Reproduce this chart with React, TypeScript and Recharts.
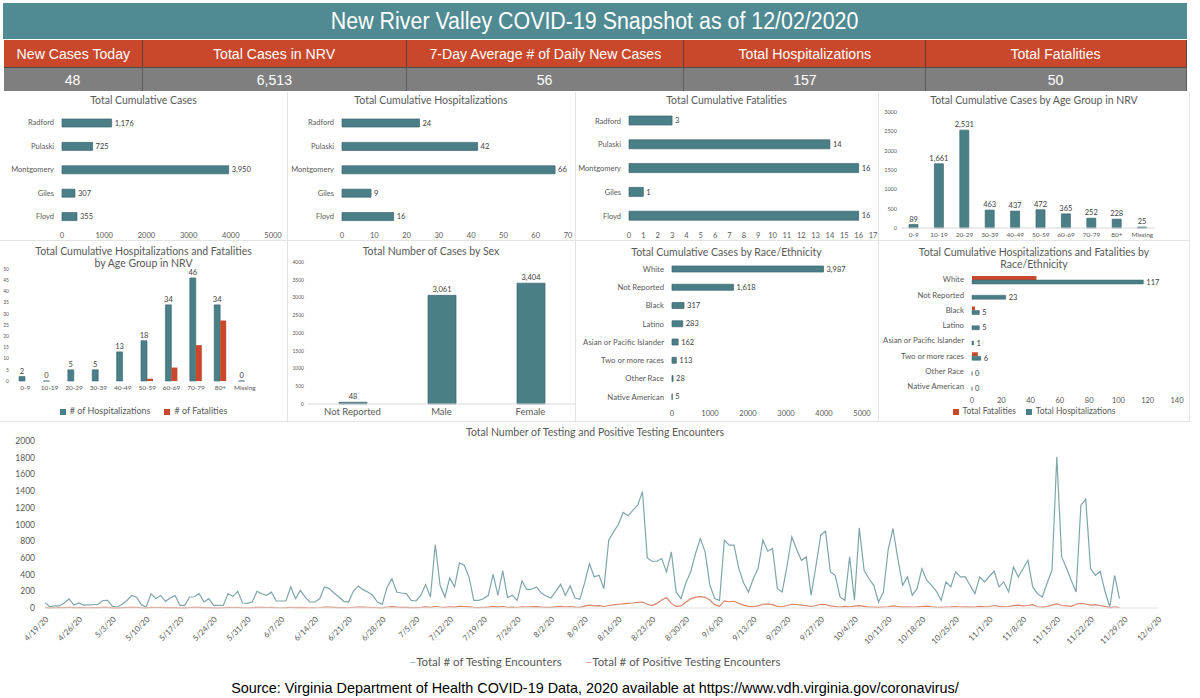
import React from "react";
import { BarChart, Bar, XAxis, YAxis, LabelList, LineChart, Line } from "recharts";

const TEAL = "#4b7f88";
const EDGE = "#3a666e";
const ORANGE = "#c9472b";
const TEXT = "#595959";
const FONT = "Lato, 'Open Sans', sans-serif";
const HEAD_FONT = "'Liberation Sans', Arial, sans-serif";

const headerLabels = ["New Cases Today", "Total Cases in NRV", "7-Day Average # of Daily New Cases", "Total Hospitalizations", "Total Fatalities"];
const headerValues = ["48", "6,513", "56", "157", "50"];
const headerEdges = [4, 143, 407, 684, 926, 1187];

const localities = ["Radford", "Pulaski", "Montgomery", "Giles", "Floyd"];
const casesByLocality = [1176, 725, 3950, 307, 355];
const hospByLocality = [24, 42, 66, 9, 16];
const deathsByLocality = [3, 14, 16, 1, 16];

const ageGroups = ["0-9", "10-19", "20-29", "30-39", "40-49", "50-59", "60-69", "70-79", "80+", "Missing"];
const casesByAge = [89, 1661, 2531, 463, 437, 472, 365, 252, 228, 25];
const hospByAge = [2, 0, 5, 5, 13, 18, 34, 46, 34, 0];
const deathsByAge = [0, 0, 0, 0, 0, 1, 6, 16, 27, 0];

const sexes = ["Not Reported", "Male", "Female"];
const casesBySex = [48, 3061, 3404];

const races = ["White", "Not Reported", "Black", "Latino", "Asian or Pacific Islander", "Two or more races", "Other Race", "Native American"];
const casesByRace = [3987, 1618, 317, 283, 162, 113, 28, 5];
const hospByRace = [117, 23, 5, 5, 1, 6, 0, 0];
const deathsByRace = [44, 0, 2, 0, 0, 4, 0, 0];

// daily values from 4/19/20 onward
const testing = [
  64, 15, 25, 25, 60, 110, 35, 60, 35, 38,
  40, 45, 90, 92, 20, 12, 45, 90, 150, 130,
  40, 12, 170, 115, 150, 80, 120, 150, 32, 32,
  132, 135, 172, 72, 112, 32, 32, 30, 172, 140,
  200, 60, 55, 72, 200, 170, 152, 190, 84, 84,
  84, 252, 112, 212, 130, 72, 72, 110, 252, 232,
  180, 132, 80, 72, 200, 264, 220, 192, 152, 72,
  44, 250, 352, 192, 180, 172, 92, 84, 150, 280,
  132, 760, 272, 132, 360, 252, 540, 512, 372, 92,
  92, 110, 152, 404, 152, 444, 124, 152, 92, 324,
  220, 225, 252, 180, 144, 120, 200, 284, 152, 264,
  120, 104, 300, 532, 372, 392, 232, 812, 912, 1000,
  1144, 1104, 1170, 1232, 1392, 600, 560, 560, 592, 432,
  672, 192, 112, 300, 432, 650, 832, 672, 272, 112,
  92, 812, 752, 752, 472, 300, 192, 350, 472, 812,
  680, 712, 232, 192, 500, 852, 700, 572, 612,
  152, 500, 872, 920, 432, 392, 132, 92, 612, 92,
  960, 452, 350, 272, 72, 192, 700, 952, 592, 272,
  372, 152, 232, 472, 332, 272, 200, 92, 312,
  252, 432, 372, 372, 270, 172, 372, 312, 380, 440,
  252, 312, 192, 492, 372, 470, 572, 252, 172,
  132, 300, 452, 1812, 612, 480, 330, 192, 1232, 1304,
  472, 392, 440, 200, 12, 392, 112,
];
const positive = [
  6, 2, 3, 5, 4, 9, 5, 6, 4, 3,
  4, 5, 8, 7, 2, 1, 4, 6, 9, 7,
  3, 1, 8, 6, 7, 4, 6, 5, 2, 2,
  6, 7, 8, 4, 5, 2, 2, 3, 7, 6,
  8, 3, 3, 4, 8, 7, 6, 7, 4, 3,
  4, 9, 5, 8, 5, 3, 3, 6, 12, 10,
  8, 5, 4, 3, 9, 12, 10, 9, 6, 3,
  2, 12, 16, 10, 8, 7, 5, 4, 8, 14,
  8, 18, 12, 8, 15, 10, 20, 18, 14, 6,
  5, 8, 10, 20, 10, 18, 8, 10, 6, 15,
  12, 14, 16, 10, 8, 7, 14, 20, 12, 18,
  10, 8, 22, 35, 25, 28, 18, 30, 38, 45,
  50, 55, 60, 68, 72, 45, 30, 55, 95, 125,
  55, 20, 25, 70, 110, 130, 135, 128, 95, 40,
  20, 85, 75, 80, 55, 35, 20, 15, 25, 45,
  50, 40, 20, 15, 30, 45, 42, 35, 28,
  18, 30, 45, 42, 25, 18, 12, 20, 15, 22,
  28, 20, 12, 10, 8, 12, 15, 25, 18, 10,
  15, 12, 14, 18, 22, 15, 10, 8, 12,
  14, 18, 12, 15, 10, 12, 20, 15, 18, 30,
  20, 15, 18, 28, 35, 25, 30, 40, 15,
  10, 18, 35, 50, 30, 25, 20, 45, 55, 48,
  35, 40, 30, 20, 2, 15, 5,
];

// axis runs 4/19/20 .. 12/6/20
const dates = Array.from({ length: 232 }, (_, i) => {
  const d = new Date(2020, 3, 19 + i);
  return `${d.getMonth() + 1}/${d.getDate()}/20`;
});
const lineTicks = [0, 200, 400, 600, 800, 1000, 1200, 1400, 1600, 1800, 2000];

const fmt = (v: any) => (typeof v === "number" ? v.toLocaleString("en-US") : v);

// category labels on one line, right-aligned against the axis
const catTick = (size: number) => (p: any) => (
  <text x={p.x} y={p.y} dy={size * 0.35} textAnchor="end" fontSize={size} fill={TEXT}>
    {p.payload.value}
  </text>
);

function Narrow({ children, scale }: { children: React.ReactNode; scale: number }) {
  return <span style={{ display: "inline-block", transform: `scaleX(${scale})`, whiteSpace: "nowrap" }}>{children}</span>;
}

function Title({ left, top, width, lines }: { left: number; top: number; width: number; lines: string[] }) {
  return (
    <div style={{ position: "absolute", left, top, width, textAlign: "center", fontSize: 10.5, lineHeight: "12px", color: TEXT, fontFamily: FONT }}>
      {lines.map((l) => (
        <div key={l}>{l}</div>
      ))}
    </div>
  );
}

function HBarPanel(props: {
  left: number; top: number; width: number; height: number;
  names: string[]; values: number[]; max: number; ticks: number[];
  yWidth: number; marginTop: number; marginRight: number; barSize: number; catSize: number;
}) {
  const data = props.names.map((name, i) => ({ name, v: props.values[i] }));
  return (
    <div style={{ position: "absolute", left: props.left, top: props.top }}>
      <BarChart width={props.width} height={props.height} data={data} layout="vertical"
        margin={{ top: props.marginTop, right: props.marginRight, bottom: 0, left: 0 }}>
        <XAxis type="number" domain={[0, props.max]} ticks={props.ticks} interval={0} axisLine={false} tickLine={false}
          tickSize={3} height={14} tick={{ fontSize: 7.5, fill: TEXT }} />
        <YAxis type="category" dataKey="name" width={props.yWidth} axisLine={false} tickLine={false} interval={0}
          tick={catTick(props.catSize)} />
        <Bar dataKey="v" fill={TEAL} stroke={EDGE} strokeWidth={0.7} barSize={props.barSize} isAnimationActive={false}>
          <LabelList dataKey="v" position="right" offset={3} formatter={fmt} fontSize={7.5} fill="#404040" />
        </Bar>
      </BarChart>
    </div>
  );
}

function Swatch({ color }: { color: string }) {
  return <span style={{ display: "inline-block", width: 6, height: 6, background: color, marginRight: 4, verticalAlign: "middle" }} />;
}

export default function App() {
  const ageData = ageGroups.map((g, i) => ({ g, cases: casesByAge[i], hosp: hospByAge[i], deaths: deathsByAge[i] }));
  const sexData = sexes.map((s, i) => ({ s, v: casesBySex[i] }));
  const raceData = races.map((r, i) => ({ r, hosp: hospByRace[i], deaths: deathsByRace[i] }));
  const lineData = dates.map((date, i) => ({
    date,
    testing: i < testing.length ? testing[i] : null,
    positive: i < positive.length ? positive[i] : null,
  }));

  const sep = "1px solid #e4e4e4";

  return (
    <div style={{ position: "absolute", left: 0, top: 0, width: 1200, height: 698, background: "#fff", fontFamily: FONT, overflow: "hidden" }}>
      {/* header */}
      <div style={{ position: "absolute", left: 3, top: 3, width: 1184, height: 36, background: "#508a93", color: "#fff",
        fontFamily: HEAD_FONT, fontSize: 23, lineHeight: "36px", textAlign: "center" }}>
        <Narrow scale={0.93}>New River Valley COVID-19 Snapshot as of 12/02/2020</Narrow>
      </div>
      {headerLabels.map((h, i) => (
        <div key={h} style={{ position: "absolute", left: headerEdges[i], top: 40, width: headerEdges[i + 1] - headerEdges[i], height: 27,
          background: ORANGE, color: "#fff", fontFamily: HEAD_FONT, fontSize: 15.5, lineHeight: "27px", textAlign: "center",
          borderRight: "1px solid #5a4038", boxSizing: "border-box" }}>
          <Narrow scale={0.91}>{h}</Narrow>
        </div>
      ))}
      {headerValues.map((v, i) => (
        <div key={i} style={{ position: "absolute", left: headerEdges[i], top: 67, width: headerEdges[i + 1] - headerEdges[i], height: 24,
          background: "#7f7f7f", color: "#fff", fontFamily: HEAD_FONT, fontSize: 15.5, lineHeight: "24px", textAlign: "center",
          borderRight: "1px solid #5c5c5c", borderTop: "1px solid #4a4a4a", boxSizing: "border-box" }}>
          <Narrow scale={0.91}>{v}</Narrow>
        </div>
      ))}

      {/* panel separators */}
      <div style={{ position: "absolute", left: 0, top: 240, width: 1190, borderTop: sep }} />
      <div style={{ position: "absolute", left: 0, top: 421, width: 1190, borderTop: sep }} />
      {[287, 575, 878, 1189].map((x) => (
        <div key={x} style={{ position: "absolute", left: x, top: 92, height: 329, borderLeft: sep }} />
      ))}

      {/* row 1 */}
      <Title left={0} top={94} width={287} lines={["Total Cumulative Cases"]} />
      <HBarPanel left={0} top={92} width={287} height={150} names={localities} values={casesByLocality} max={5000}
        ticks={[0, 1000, 2000, 3000, 4000, 5000]} yWidth={62} marginTop={19} marginRight={14} barSize={8} catSize={7.5} />

      <Title left={287} top={94} width={288} lines={["Total Cumulative Hospitalizations"]} />
      <HBarPanel left={287} top={92} width={288} height={150} names={localities} values={hospByLocality} max={70}
        ticks={[0, 10, 20, 30, 40, 50, 60, 70]} yWidth={55} marginTop={19} marginRight={7} barSize={8} catSize={7.5} />

      <Title left={575} top={94} width={303} lines={["Total Cumulative Fatalities"]} />
      <HBarPanel left={575} top={92} width={303} height={150} names={localities} values={deathsByLocality} max={17}
        ticks={Array.from({ length: 18 }, (_, i) => i)} yWidth={54} marginTop={17} marginRight={5} barSize={9} catSize={7.5} />

      <Title left={878} top={94} width={312} lines={["Total Cumulative Cases by Age Group in NRV"]} />
      <div style={{ position: "absolute", left: 878, top: 92 }}>
        <BarChart width={312} height={148} data={ageData} margin={{ top: 20, right: 35, bottom: 0, left: 0 }}>
          <XAxis dataKey="g" interval={0} tickLine={false} axisLine={{ stroke: "#d9d9d9" }} tickSize={2} height={12}
            tick={{ fontSize: 6.5, fill: TEXT }} />
          <YAxis domain={[0, 3000]} ticks={[0, 500, 1000, 1500, 2000, 2500, 3000]} width={23} axisLine={false} tickLine={false}
            tickSize={2} tickMargin={2} tick={{ fontSize: 5.5, fill: TEXT }} />
          <Bar dataKey="cases" fill={TEAL} stroke={EDGE} strokeWidth={0.7} barSize={9} isAnimationActive={false}>
            <LabelList dataKey="cases" position="top" offset={3} formatter={fmt} fontSize={7.5} fill="#404040" />
          </Bar>
        </BarChart>
      </div>

      {/* row 2 */}
      <Title left={0} top={245} width={287} lines={["Total Cumulative Hospitalizations and Fatalities", "by Age Group in NRV"]} />
      <div style={{ position: "absolute", left: 0, top: 240 }}>
        <BarChart width={287} height={153} data={ageData} barGap={0} margin={{ top: 29, right: 30, bottom: 0, left: 0 }}>
          <XAxis dataKey="g" interval={0} tickLine={false} axisLine={false} tickSize={2} height={12}
            tick={{ fontSize: 6.5, fill: TEXT }} />
          <YAxis domain={[0, 50]} ticks={[0, 5, 10, 15, 20, 25, 30, 35, 40, 45, 50]} width={13} axisLine={false} tickLine={false}
            tickSize={2} tickMargin={2} tick={{ fontSize: 5, fill: TEXT }} />
          <Bar dataKey="hosp" fill={TEAL} stroke={EDGE} strokeWidth={0.6} barSize={6} minPointSize={0.01} isAnimationActive={false}>
            <LabelList dataKey="hosp" position="top" offset={3} fontSize={7.5} fill="#404040" />
          </Bar>
          <Bar dataKey="deaths" fill={ORANGE} barSize={6} isAnimationActive={false} />
        </BarChart>
      </div>
      <div style={{ position: "absolute", left: 0, top: 405, width: 287, textAlign: "center", fontSize: 9, color: TEXT }}>
        <Swatch color={TEAL} /># of Hospitalizations<span style={{ display: "inline-block", width: 14 }} />
        <Swatch color={ORANGE} /># of Fatalities
      </div>

      <Title left={287} top={245} width={288} lines={["Total Number of Cases by Sex"]} />
      <div style={{ position: "absolute", left: 287, top: 240 }}>
        <BarChart width={288} height={180} data={sexData} margin={{ top: 22, right: 0, bottom: 0, left: 0 }}>
          <XAxis dataKey="s" interval={0} tickLine={false} axisLine={{ stroke: "#d9d9d9" }} tickSize={2} height={16}
            tick={{ fontSize: 9.5, fill: TEXT }} />
          <YAxis domain={[0, 4000]} ticks={[0, 500, 1000, 1500, 2000, 2500, 3000, 3500, 4000]} width={21} axisLine={false}
            tickLine={false} tickSize={2} tickMargin={2} tick={{ fontSize: 5, fill: TEXT }} />
          <Bar dataKey="v" fill={TEAL} stroke={EDGE} strokeWidth={0.7} barSize={28} isAnimationActive={false}>
            <LabelList dataKey="v" position="top" offset={3} formatter={fmt} fontSize={7.5} fill="#404040" />
          </Bar>
        </BarChart>
      </div>

      <Title left={575} top={246} width={303} lines={["Total Cumulative Cases by Race/Ethnicity"]} />
      <HBarPanel left={575} top={240} width={303} height={180} names={races} values={casesByRace} max={5000}
        ticks={[0, 1000, 2000, 3000, 4000, 5000]} yWidth={97} marginTop={20} marginRight={16} barSize={6} catSize={7.8} />

      <Title left={878} top={246} width={312} lines={["Total Cumulative Hospitalizations and Fatalities by", "Race/Ethnicity"]} />
      <div style={{ position: "absolute", left: 878, top: 240 }}>
        <BarChart width={312} height={168} data={raceData} layout="vertical" barGap={0}
          margin={{ top: 32, right: 13, bottom: 0, left: 0 }}>
          <XAxis type="number" domain={[0, 140]} ticks={[0, 20, 40, 60, 80, 100, 120, 140]} interval={0} axisLine={false}
            tickLine={false} tickSize={2} height={14} tick={{ fontSize: 7.5, fill: TEXT }} />
          <YAxis type="category" dataKey="r" width={94} axisLine={false} tickLine={false} interval={0}
            tick={catTick(7.8)} />
          <Bar dataKey="deaths" fill={ORANGE} barSize={4} isAnimationActive={false} />
          <Bar dataKey="hosp" fill={TEAL} stroke={EDGE} strokeWidth={0.5} barSize={4} minPointSize={0.01} isAnimationActive={false}>
            <LabelList dataKey="hosp" position="right" offset={3} fontSize={7.5} fill="#404040" />
          </Bar>
        </BarChart>
      </div>
      <div style={{ position: "absolute", left: 878, top: 406, width: 312, textAlign: "center", fontSize: 8.5, color: TEXT }}>
        <Swatch color={ORANGE} />Total Fatalities<span style={{ display: "inline-block", width: 10 }} />
        <Swatch color={TEAL} />Total Hospitalizations
      </div>

      {/* testing line chart */}
      <div style={{ position: "absolute", left: 0, top: 426, width: 1190, textAlign: "center", fontSize: 10.5, color: TEXT }}>
        Total Number of Testing and Positive Testing Encounters
      </div>
      <div style={{ position: "absolute", left: 0, top: 425 }}>
        <LineChart width={1200} height={235} data={lineData} margin={{ top: 16, right: 42, bottom: 0, left: 0 }}>
          <XAxis dataKey="date" interval={6} angle={-45} textAnchor="end" height={52} tickLine={false}
            axisLine={{ stroke: "#e0e0e0" }} tick={{ fontSize: 8, fill: TEXT }} />
          <YAxis domain={[0, 2000]} ticks={lineTicks} width={45} axisLine={false} tickLine={false} tickMargin={4}
            tick={{ fontSize: 8.5, fill: TEXT }} />
          <Line dataKey="testing" stroke="#7ea6a9" strokeWidth={1.2} dot={false} isAnimationActive={false} />
          <Line dataKey="positive" stroke="#dc8468" strokeWidth={1.2} dot={false} isAnimationActive={false} />
        </LineChart>
      </div>
      <div style={{ position: "absolute", left: 0, top: 655, width: 1190, textAlign: "center", fontSize: 11.5, color: TEXT }}>
        <span style={{ color: "#7ea6a9" }}>–</span>Total # of Testing Encounters<span style={{ display: "inline-block", width: 24 }} />
        <span style={{ color: "#dc8468" }}>–</span>Total # of Positive Testing Encounters
      </div>

      <div style={{ position: "absolute", left: 0, top: 680, width: 1190, textAlign: "center", fontSize: 14.4,
        fontFamily: HEAD_FONT, color: "#000" }}>
        Source: Virginia Department of Health COVID-19 Data, 2020 available at https://www.vdh.virginia.gov/coronavirus/
      </div>
    </div>
  );
}
